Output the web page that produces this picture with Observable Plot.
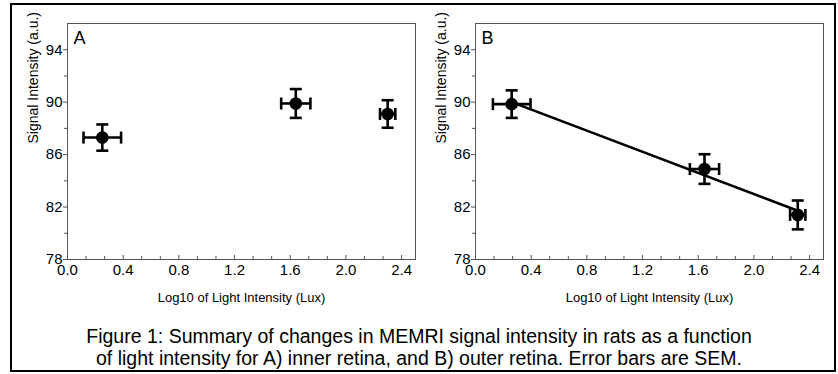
<!DOCTYPE html>
<html>
<head>
<meta charset="utf-8">
<script src="https://cdn.jsdelivr.net/npm/d3@7"></script>
<script src="https://cdn.jsdelivr.net/npm/@observablehq/plot@0.6"></script>
<style>
  html, body { margin: 0; padding: 0; background: #fff; }
  body { width: 838px; height: 374px; position: relative; overflow: hidden; font-family: "Liberation Sans", Arial, sans-serif; }
  #frame { position: absolute; left: 10px; top: 3px; width: 822px; height: 365px; border: 2px solid #000; box-sizing: content-box; }
  .panel { position: absolute; top: 0; }
  #caption { position: absolute; left: 0; width: 838px; top: 325px; text-align: center; font-size: 19.5px; line-height: 22px; color: #000; }
</style>
</head>
<body>
<div id="frame"></div>
<div id="pA" class="panel" style="left:0px"></div>
<div id="pB" class="panel" style="left:408px"></div>
<div id="caption">Figure 1: Summary of changes in MEMRI signal intensity in rats as a function<br>of light intensity for A) inner retina, and B) outer retina. Error bars are SEM.</div>
<script>
// ---- data ----
const xTicks = [0, 0.4, 0.8, 1.2, 1.6, 2.0, 2.4];
const yTicks = [78, 82, 86, 90, 94];
const yMinor = [80, 84, 88, 92];
const xMinor = [0.1333, 0.2667, 0.5333, 0.6667, 0.9333, 1.0667, 1.3333, 1.4667, 1.7333, 1.8667, 2.1333, 2.2667];

const xA = [0.25, 1.64, 2.30];
const yA = [87.3, 89.9, 89.1];
const xErrA = [0.135, 0.105, 0.055];
const yErrA = [1.0, 1.1, 1.05];

const xB = [0.26, 1.645, 2.315];
const yB = [89.85, 84.9, 81.4];
const xErrB = [0.135, 0.105, 0.055];
const yErrB = [1.05, 1.13, 1.1];

const panelLabels = ["A", "B"];
const xLabel = "Log10 of Light Intensity (Lux)";
const yLabel = "Signal Intensity (a.u.)";

// ---- helpers ----
const capV = {draw(ctx, size) { const h = Math.sqrt(size / Math.PI); ctx.moveTo(0, -h); ctx.lineTo(0, h); }};
const capH = {draw(ctx, size) { const h = Math.sqrt(size / Math.PI); ctx.moveTo(-h, 0); ctx.lineTo(h, 0); }};

function panel(xs, ys, xe, ye, label, fit) {
  const data = xs.map((x, i) => ({x, y: ys[i], xe: xe[i], ye: ye[i]}));
  const sw = 2.6;
  const marks = [
    Plot.frame({stroke: "#555", strokeWidth: 1}),
    Plot.axisY(yTicks, {tickSize: 4, tickPadding: 1, fontSize: 15, stroke: "#555", color: "#000", label: null}),
    Plot.axisY(yMinor, {tickSize: 3, text: null, stroke: "#555", label: null}),
    Plot.axisX(xTicks, {tickSize: -4, tickPadding: 9, fontSize: 15, stroke: "#555", color: "#000", label: null}),
    Plot.axisX(xMinor, {tickSize: -3, text: null, stroke: "#555", label: null}),
    Plot.text([label], {frameAnchor: "top-left", dx: 6, dy: 8, fontSize: 18, fill: "#000"}),
    Plot.text([xLabel], {frameAnchor: "bottom", dy: 42, fontSize: 13, fill: "#000", lineAnchor: "bottom"}),
    Plot.text([yLabel], {frameAnchor: "left", dx: -34, dy: 2, rotate: -90, fontSize: 14, fill: "#000"}),
  ];
  if (fit) marks.push(Plot.linearRegressionY(data, {x: "x", y: "y", ci: 0, stroke: "#000", strokeWidth: 2.6}));
  marks.push(
    Plot.ruleY(data, {y: "y", x1: d => d.x - d.xe, x2: d => d.x + d.xe, stroke: "#000", strokeWidth: sw}),
    Plot.ruleX(data, {x: "x", y1: d => d.y - d.ye, y2: d => d.y + d.ye, stroke: "#000", strokeWidth: sw}),
    Plot.dot(data, {x: d => d.x - d.xe, y: "y", symbol: capV, r: 6, stroke: "#000", strokeWidth: sw}),
    Plot.dot(data, {x: d => d.x + d.xe, y: "y", symbol: capV, r: 6, stroke: "#000", strokeWidth: sw}),
    Plot.dot(data, {x: "x", y: d => d.y - d.ye, symbol: capH, r: 6, stroke: "#000", strokeWidth: sw}),
    Plot.dot(data, {x: "x", y: d => d.y + d.ye, symbol: capH, r: 6, stroke: "#000", strokeWidth: sw}),
    Plot.dot(data, {x: "x", y: "y", r: 6.3, fill: "#000", stroke: "none"})
  );
  return Plot.plot({
    width: 420, height: 300,
    marginLeft: 67, marginRight: 5, marginTop: 23, marginBottom: 41,
    style: {fontFamily: "'Liberation Sans', Arial, sans-serif", background: "transparent", overflow: "visible"},
    x: {domain: [0, 2.5], tickFormat: d3.format(".1f")},
    y: {domain: [78, 96]},
    marks
  });
}

document.getElementById("pA").appendChild(panel(xA, yA, xErrA, yErrA, panelLabels[0], false));
document.getElementById("pB").appendChild(panel(xB, yB, xErrB, yErrB, panelLabels[1], true));
</script>
</body>
</html>
